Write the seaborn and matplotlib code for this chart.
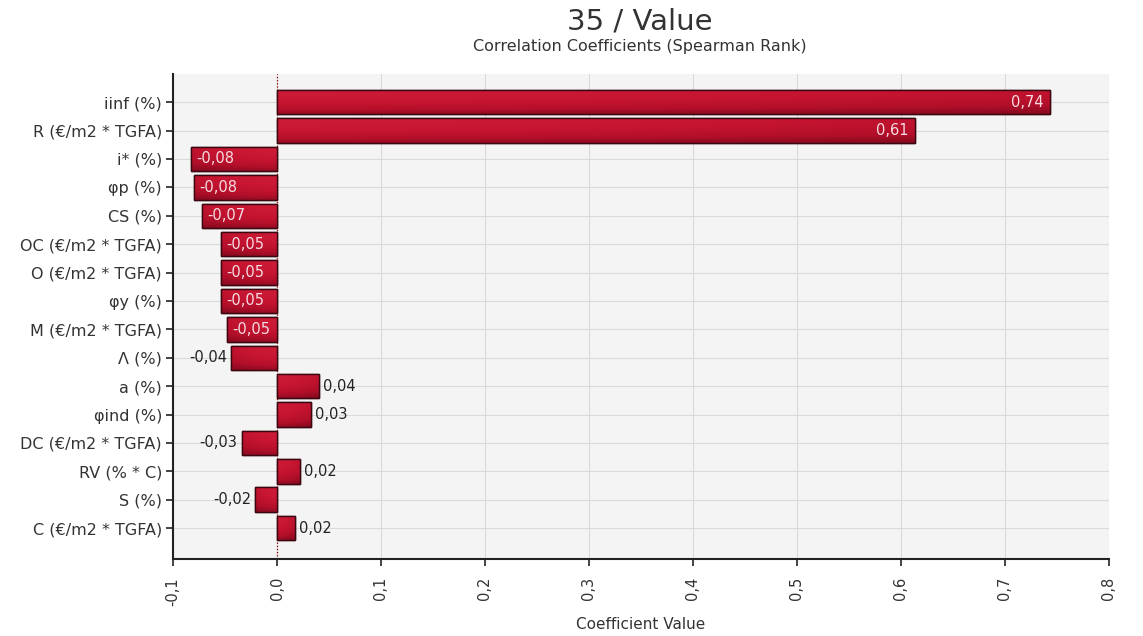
import numpy as np
import pandas as pd
import matplotlib
matplotlib.use("Agg")
import matplotlib.pyplot as plt
import seaborn as sns
from matplotlib.colors import LinearSegmentedColormap
from matplotlib.ticker import FuncFormatter

# Spearman rank correlation of each input with the output "35 / Value"
parameters = [
    "iinf (%)", "R (€/m2 * TGFA)", "i* (%)", "φp (%)", "CS (%)",
    "OC (€/m2 * TGFA)", "O (€/m2 * TGFA)", "φy (%)", "M (€/m2 * TGFA)",
    "Λ (%)", "a (%)", "φind (%)", "DC (€/m2 * TGFA)", "RV (% * C)",
    "S (%)", "C (€/m2 * TGFA)",
]
coefficients = [
    0.744, 0.614, -0.083, -0.080, -0.072,
    -0.054, -0.054, -0.054, -0.048,
    -0.044, 0.040, 0.033, -0.034, 0.022,
    -0.021, 0.017,
]
x_ticks = [-0.1, 0.0, 0.1, 0.2, 0.3, 0.4, 0.5, 0.6, 0.7, 0.8]

df = pd.DataFrame({"parameter": parameters, "coefficient": coefficients})

sns.set_theme(style="white")
plt.rcParams["font.family"] = ["DejaVu Sans"]

fig = plt.figure(figsize=(11.43, 6.36), dpi=100)
ax = fig.add_axes([0.1514, 0.121, 0.8186, 0.7626])
ax.set_facecolor("#f4f4f4")

sns.barplot(data=df, x="coefficient", y="parameter", orient="h",
            color="#b8102a", width=0.86, edgecolor="#3a0810",
            linewidth=1.0, ax=ax, zorder=3)

n = len(parameters)

# Glossy fill: lighter top, darker bottom, darkening left to right
bar_cmap = LinearSegmentedColormap.from_list(
    "bar", ["#5e0512", "#8a0a20", "#b20f2a", "#c41430", "#cc1c38"])
rows = np.linspace(1.0, 0.0, 32)[:, None]
cols = np.linspace(0.0, 1.0, 64)[None, :]
vert = np.clip(0.97 - 0.65 * (1 - rows) ** 2.0, 0, 1)
grad = vert * (1.0 - 0.3 * cols ** 1.5)
for patch in ax.patches:
    x0, y0 = patch.get_x(), patch.get_y()
    w, h = patch.get_width(), patch.get_height()
    im = ax.imshow(grad, cmap=bar_cmap, vmin=0, vmax=1, aspect="auto",
                   origin="upper", extent=[x0, x0 + w, y0 + h, y0],
                   interpolation="bilinear", zorder=3.5)
    im.set_clip_path(patch)
    edge = plt.Rectangle((x0, y0), w, h, fill=False, edgecolor="#3a0810",
                         linewidth=1.0, zorder=4)
    ax.add_patch(edge)

ax.set_ylim(n - 1 + 1.09, -0.99)
ax.set_xlim(-0.1, 0.8)

# Value labels
for i, v in enumerate(coefficients):
    text = f"{v:.2f}".replace(".", ",")
    inside = abs(v) >= 0.045
    kw = dict(va="center", fontsize=10.5, zorder=5)
    if inside:
        if v > 0:
            ax.text(v - 0.007, i, text, ha="right", color="#f6dce2", **kw)
        else:
            ax.text(v + 0.005, i, text, ha="left", color="#f6dce2", **kw)
    else:
        if v > 0:
            ax.text(v + 0.004, i, text, ha="left", color="#222222", **kw)
        else:
            ax.text(v - 0.004, i, text, ha="right", color="#222222", **kw)

# Zero reference line
ax.axvline(0, color="#8b0000", linestyle=(0, (1, 1.5)), linewidth=0.9,
           zorder=2.5)

# Grid, ticks and spines
ax.set_xticks(x_ticks)
ax.xaxis.set_major_formatter(FuncFormatter(lambda x, p: f"{x:.1f}".replace(".", ",")))
ax.grid(True, axis="both", color="#dadada", linewidth=0.8, zorder=0)
ax.set_axisbelow(True)
for side in ["top", "right"]:
    ax.spines[side].set_visible(False)
for side in ["left", "bottom"]:
    ax.spines[side].set_color("#222222")
    ax.spines[side].set_linewidth(1.5)
ax.tick_params(axis="x", bottom=True, length=5, width=1.2, color="#222222",
               labelsize=10.5, labelcolor="#333333", labelrotation=90, pad=8)
ax.tick_params(axis="y", left=True, length=5, width=1.2, color="#222222",
               labelsize=11.5, labelcolor="#333333", pad=3)

ax.set_ylabel("")
ax.set_xlabel("Coefficient Value", fontsize=11, color="#333333", labelpad=8)

fig.text(0.5596, 0.966, "35 / Value", ha="center", va="center",
         fontsize=21, color="#333333")
fig.text(0.5596, 0.927, "Correlation Coefficients (Spearman Rank)",
         ha="center", va="center", fontsize=11.5, color="#333333")

fig.savefig("out.png", dpi=100)
